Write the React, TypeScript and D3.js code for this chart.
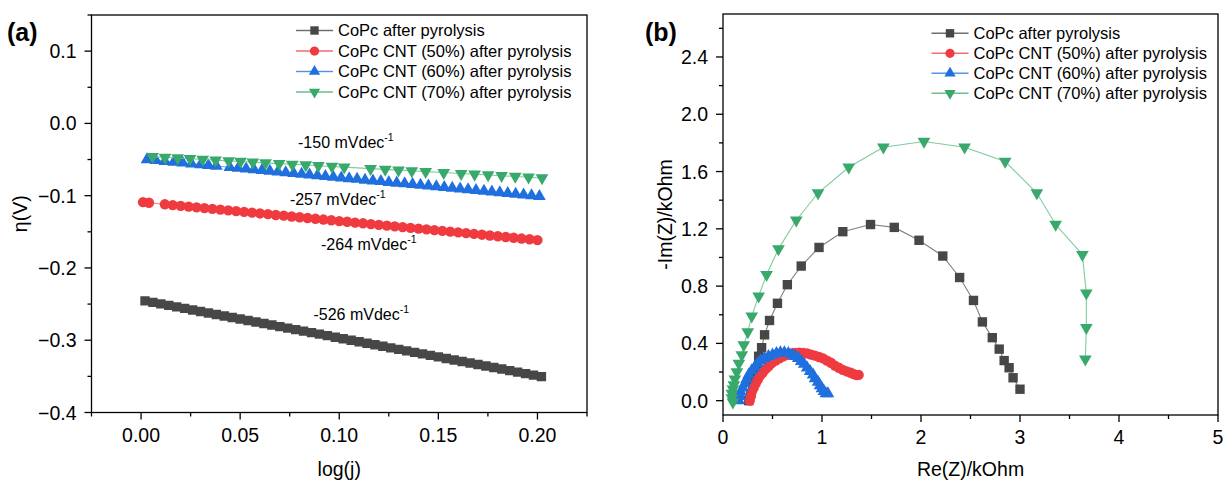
import React from 'react'
import * as d3 from 'd3'

const FONT = "Arial, 'Liberation Sans', Helvetica, sans-serif"

// ---- shared series info ----
const seriesNames = [
  'CoPc after pyrolysis',
  'CoPc CNT (50%) after pyrolysis',
  'CoPc CNT (60%) after pyrolysis',
  'CoPc CNT (70%) after pyrolysis',
]
const markerColors = ['#474747', '#ef3b40', '#1f6fdf', '#38a96a']
const lineColors = ['#808080', '#f38387', '#6fa2ea', '#7fca9f']

// ---- (a) Tafel plot ----
const logJBlack = [0.002, 0.006, 0.010, 0.014, 0.018, 0.022, 0.026, 0.030, 0.034, 0.038, 0.042, 0.046, 0.050, 0.054, 0.058, 0.062, 0.066, 0.070, 0.074, 0.078, 0.082, 0.086, 0.090, 0.094, 0.098, 0.102, 0.106, 0.110, 0.114, 0.118, 0.122, 0.126, 0.130, 0.134, 0.138, 0.142, 0.146, 0.150, 0.154, 0.158, 0.162, 0.166, 0.170, 0.174, 0.178, 0.182, 0.186, 0.190, 0.194, 0.198, 0.202]
const etaBlack = [-0.2455, -0.2476, -0.2497, -0.2518, -0.2539, -0.2560, -0.2581, -0.2602, -0.2623, -0.2644, -0.2665, -0.2686, -0.2707, -0.2727, -0.2748, -0.2769, -0.2790, -0.2811, -0.2832, -0.2853, -0.2874, -0.2895, -0.2916, -0.2937, -0.2958, -0.2979, -0.3000, -0.3021, -0.3042, -0.3063, -0.3084, -0.3105, -0.3126, -0.3147, -0.3168, -0.3189, -0.3210, -0.3231, -0.3252, -0.3273, -0.3294, -0.3315, -0.3336, -0.3357, -0.3378, -0.3399, -0.3420, -0.3441, -0.3462, -0.3483, -0.3504]

const logJRed = [0.001, 0.004, 0.012, 0.016, 0.020, 0.024, 0.028, 0.032, 0.036, 0.040, 0.044, 0.048, 0.052, 0.056, 0.060, 0.064, 0.068, 0.072, 0.076, 0.080, 0.084, 0.088, 0.092, 0.096, 0.100, 0.104, 0.108, 0.112, 0.116, 0.120, 0.124, 0.128, 0.132, 0.136, 0.140, 0.144, 0.148, 0.152, 0.156, 0.160, 0.164, 0.168, 0.172, 0.176, 0.180, 0.184, 0.188, 0.192, 0.196, 0.200]
const etaRed = [-0.1090, -0.1098, -0.1119, -0.1130, -0.1140, -0.1151, -0.1161, -0.1172, -0.1182, -0.1193, -0.1203, -0.1214, -0.1225, -0.1235, -0.1246, -0.1256, -0.1267, -0.1277, -0.1288, -0.1298, -0.1309, -0.1319, -0.1330, -0.1340, -0.1351, -0.1361, -0.1372, -0.1382, -0.1393, -0.1403, -0.1414, -0.1424, -0.1435, -0.1445, -0.1456, -0.1466, -0.1477, -0.1487, -0.1498, -0.1508, -0.1519, -0.1529, -0.1540, -0.1551, -0.1561, -0.1572, -0.1582, -0.1593, -0.1603, -0.1614]

const logJBlue = [0.003, 0.0075, 0.012, 0.0165, 0.021, 0.0255, 0.030, 0.034, 0.038, 0.0448, 0.049, 0.053, 0.057, 0.061, 0.065, 0.069, 0.073, 0.077, 0.081, 0.085, 0.089, 0.093, 0.097, 0.101, 0.105, 0.109, 0.113, 0.117, 0.121, 0.125, 0.129, 0.133, 0.137, 0.141, 0.145, 0.149, 0.153, 0.157, 0.161, 0.165, 0.169, 0.173, 0.177, 0.181, 0.185, 0.189, 0.193, 0.197, 0.201]
const etaBlue = [-0.0500, -0.0512, -0.0523, -0.0535, -0.0546, -0.0558, -0.0569, -0.0580, -0.0590, -0.0607, -0.0618, -0.0628, -0.0639, -0.0649, -0.0659, -0.0670, -0.0680, -0.0690, -0.0700, -0.0711, -0.0721, -0.0731, -0.0742, -0.0752, -0.0762, -0.0772, -0.0783, -0.0793, -0.0803, -0.0814, -0.0824, -0.0834, -0.0844, -0.0855, -0.0865, -0.0875, -0.0886, -0.0896, -0.0906, -0.0916, -0.0927, -0.0937, -0.0947, -0.0957, -0.0968, -0.0978, -0.0988, -0.0999, -0.1009]

const logJGreen = [0.0058, 0.0121, 0.0185, 0.0247, 0.0311, 0.0376, 0.0442, 0.0502, 0.0564, 0.0628, 0.0697, 0.0763, 0.0831, 0.0895, 0.0963, 0.1025, 0.1158, 0.1232, 0.1299, 0.1366, 0.1436, 0.1527, 0.1615, 0.1683, 0.1751, 0.1819, 0.1888, 0.1955, 0.2023]
const etaGreen = [-0.0460, -0.0469, -0.0479, -0.0488, -0.0498, -0.0508, -0.0518, -0.0527, -0.0536, -0.0546, -0.0556, -0.0566, -0.0576, -0.0586, -0.0596, -0.0605, -0.0625, -0.0636, -0.0646, -0.0656, -0.0667, -0.0680, -0.0694, -0.0704, -0.0714, -0.0724, -0.0734, -0.0745, -0.0755]

const tafelSlopeLabels = ['-526 mVdec', '-264 mVdec', '-257 mVdec', '-150 mVdec']
const tafelSlopeAtX = [0.087, 0.0908, 0.0751, 0.0792]
const tafelSlopeAtY = [-0.272, -0.1752, -0.1129, -0.034]

const tafelXTicks = [0, 0.05, 0.1, 0.15, 0.2]
const tafelXMinor = [-0.025, 0.025, 0.075, 0.125, 0.175, 0.225]
const tafelYTicks = [-0.4, -0.3, -0.2, -0.1, 0.0, 0.1]
const tafelYMinor = [-0.35, -0.25, -0.15, -0.05, 0.05, 0.15]

// ---- (b) Nyquist plot ----
const reBlack = [0.26, 0.28, 0.30, 0.32, 0.34, 0.36, 0.39, 0.42, 0.47, 0.55, 0.65, 0.79, 0.97, 1.21, 1.49, 1.73, 1.98, 2.22, 2.39, 2.53, 2.62, 2.72, 2.79, 2.84, 2.89, 2.93, 3.00]
const imBlack = [0.00, 0.05, 0.10, 0.16, 0.22, 0.31, 0.37, 0.46, 0.56, 0.68, 0.81, 0.94, 1.07, 1.18, 1.23, 1.21, 1.12, 1.01, 0.86, 0.70, 0.55, 0.44, 0.36, 0.28, 0.23, 0.16, 0.08]

const reRed = [0.27, 0.28, 0.29, 0.31, 0.33, 0.35, 0.37, 0.40, 0.43, 0.46, 0.49, 0.53, 0.57, 0.61, 0.65, 0.69, 0.73, 0.77, 0.81, 0.85, 0.89, 0.93, 0.97, 1.01, 1.05, 1.09, 1.13, 1.17, 1.21, 1.25, 1.29, 1.32, 1.35, 1.37]
const imRed = [0.00, 0.03, 0.06, 0.09, 0.12, 0.145, 0.17, 0.195, 0.22, 0.24, 0.26, 0.28, 0.295, 0.31, 0.32, 0.33, 0.333, 0.335, 0.333, 0.33, 0.322, 0.315, 0.305, 0.295, 0.28, 0.265, 0.245, 0.23, 0.215, 0.205, 0.195, 0.185, 0.178, 0.18]

const reBlue = [0.16, 0.17, 0.18, 0.20, 0.22, 0.24, 0.26, 0.29, 0.32, 0.35, 0.38, 0.42, 0.46, 0.50, 0.54, 0.58, 0.62, 0.66, 0.70, 0.73, 0.76, 0.79, 0.82, 0.85, 0.88, 0.91, 0.93, 0.96, 0.98, 1.00, 1.02, 1.04, 1.06]
const imBlue = [0.00, 0.03, 0.06, 0.09, 0.12, 0.15, 0.18, 0.21, 0.235, 0.26, 0.28, 0.295, 0.31, 0.32, 0.33, 0.335, 0.335, 0.33, 0.32, 0.31, 0.295, 0.275, 0.255, 0.23, 0.205, 0.18, 0.155, 0.13, 0.105, 0.085, 0.065, 0.05, 0.05]

const reGreen = [0.10, 0.09, 0.09, 0.10, 0.11, 0.12, 0.14, 0.16, 0.19, 0.21, 0.25, 0.29, 0.36, 0.44, 0.56, 0.74, 0.96, 1.27, 1.62, 2.03, 2.44, 2.85, 3.17, 3.36, 3.63, 3.67, 3.67, 3.66]
const imGreen = [-0.01, 0.02, 0.05, 0.08, 0.11, 0.15, 0.20, 0.26, 0.32, 0.39, 0.48, 0.59, 0.73, 0.88, 1.06, 1.26, 1.45, 1.63, 1.77, 1.81, 1.77, 1.67, 1.45, 1.23, 1.02, 0.75, 0.51, 0.29]

const eisXTicks = [0, 1, 2, 3, 4, 5]
const eisXMinor = [0.5, 1.5, 2.5, 3.5, 4.5]
const eisYTicks = [0.0, 0.4, 0.8, 1.2, 1.6, 2.0, 2.4]
const eisYMinor = [0.2, 0.6, 1.0, 1.4, 1.8, 2.2, 2.6]

const zip = (xs: number[], ys: number[]) => xs.map((x, i) => [x, ys[i]] as [number, number])

const tafelSeries = [zip(logJBlack, etaBlack), zip(logJRed, etaRed), zip(logJBlue, etaBlue), zip(logJGreen, etaGreen)]
const eisSeries = [zip(reBlack, imBlack), zip(reRed, imRed), zip(reBlue, imBlue), zip(reGreen, imGreen)]

const symbolTypes = [d3.symbolSquare, d3.symbolCircle, d3.symbolTriangle, d3.symbolTriangle]
const symbolSizes = [88, 84, 70, 70]

function Marker({ i, x, y, scale = 1 }: { i: number; x: number; y: number; scale?: number }) {
  const d = d3.symbol().type(symbolTypes[i]).size(symbolSizes[i] * scale)() || ''
  const rot = i === 3 ? ' rotate(180)' : ''
  return <path d={d} transform={`translate(${x},${y})${rot}`} fill={markerColors[i]} />
}

type PanelProps = {
  box: { x0: number; x1: number; y0: number; y1: number }
  xDomain: [number, number]
  yDomain: [number, number]
  xTicks: number[]
  xMinor: number[]
  yTicks: number[]
  yMinor: number[]
  xFmt: (v: number) => string
  yFmt: (v: number) => string
  series: [number, number][][]
  xTitle: string
  yTitle: string
  yTitleX: number
  tag: string
  tagX: number
  legend: { lineX0: number; y0: number; dy: number }
  children?: (x: d3.ScaleLinear<number, number>, y: d3.ScaleLinear<number, number>) => React.ReactNode
}

function Panel(p: PanelProps) {
  const { box } = p
  const x = d3.scaleLinear().domain(p.xDomain).range([box.x0, box.x1])
  const y = d3.scaleLinear().domain(p.yDomain).range([box.y1, box.y0])
  const line = d3.line<[number, number]>().x(d => x(d[0])).y(d => y(d[1]))
  const clipId = 'clip-' + p.tag.replace(/\W/g, '')
  return (
    <g fontFamily={FONT}>
      <defs>
        <clipPath id={clipId}>
          <rect x={box.x0} y={box.y0} width={box.x1 - box.x0} height={box.y1 - box.y0} />
        </clipPath>
      </defs>
      {/* data */}
      <g clipPath={`url(#${clipId})`}>
        {p.series.map((s, i) => (
          <g key={i}>
            <path d={line(s) || ''} fill="none" stroke={lineColors[i]} strokeWidth={1.1} />
            {s.map((pt, j) => (
              <Marker key={j} i={i} x={x(pt[0])} y={y(pt[1])} />
            ))}
          </g>
        ))}
      </g>
      {/* frame */}
      <rect x={box.x0} y={box.y0} width={box.x1 - box.x0} height={box.y1 - box.y0} fill="none" stroke="#000" strokeWidth={1.3} />
      {/* x axis */}
      {p.xTicks.map(t => (
        <g key={'xt' + t}>
          <line x1={x(t)} x2={x(t)} y1={box.y1} y2={box.y1 + 7} stroke="#000" strokeWidth={1.3} />
          <text x={x(t)} y={box.y1 + 29} textAnchor="middle" fontSize={19.5} fill="#000">{p.xFmt(t)}</text>
        </g>
      ))}
      {p.xMinor.map(t => (
        <line key={'xm' + t} x1={x(t)} x2={x(t)} y1={box.y1} y2={box.y1 + 4} stroke="#000" strokeWidth={1.3} />
      ))}
      {/* y axis */}
      {p.yTicks.map(t => (
        <g key={'yt' + t}>
          <line x1={box.x0 - 7} x2={box.x0} y1={y(t)} y2={y(t)} stroke="#000" strokeWidth={1.3} />
          <text x={box.x0 - 15} y={y(t)} dy="0.36em" textAnchor="end" fontSize={19.5} fill="#000">{p.yFmt(t)}</text>
        </g>
      ))}
      {p.yMinor.map(t => (
        <line key={'ym' + t} x1={box.x0 - 4} x2={box.x0} y1={y(t)} y2={y(t)} stroke="#000" strokeWidth={1.3} />
      ))}
      {/* titles */}
      <text x={(box.x0 + box.x1) / 2} y={476} textAnchor="middle" fontSize={19.5} fill="#000">{p.xTitle}</text>
      <text transform={`translate(${p.yTitleX},${(box.y0 + box.y1) / 2}) rotate(-90)`} textAnchor="middle" fontSize={19.5} fill="#000">{p.yTitle}</text>
      <text x={p.tagX} y={41} fontSize={25} fontWeight="bold" fill="#000">{p.tag}</text>
      {/* legend */}
      {seriesNames.map((name, i) => {
        const cy = p.legend.y0 + i * p.legend.dy
        const lx = p.legend.lineX0
        return (
          <g key={'lg' + i}>
            <line x1={lx} x2={lx + 37} y1={cy} y2={cy} stroke={lineColors[i]} strokeWidth={1.6} />
            <line x1={lx} x2={lx + 37} y1={cy} y2={cy} stroke={markerColors[i]} strokeOpacity={0.35} strokeWidth={1} />
            <Marker i={i} x={lx + 18.5} y={cy} scale={0.8} />
            <text x={lx + 42} y={cy} dy="0.36em" fontSize={16.5} fill="#000">{name}</text>
          </g>
        )
      })}
      {p.children && p.children(x, y)}
    </g>
  )
}

export default function App() {
  const f2 = d3.format('.2f')
  const f1 = d3.format('.1f')
  const fi = d3.format('d')
  return (
    <div style={{ position: 'absolute', left: 0, top: 0 }}>
      <svg width={1227} height={481} style={{ display: 'block', background: '#fff' }}>
        <Panel
          box={{ x0: 91.5, x1: 587, y0: 15, y1: 412.5 }}
          xDomain={[-0.025, 0.225]}
          yDomain={[-0.4, 0.15]}
          xTicks={tafelXTicks}
          xMinor={tafelXMinor}
          yTicks={tafelYTicks}
          yMinor={tafelYMinor}
          xFmt={f2}
          yFmt={f1}
          series={tafelSeries}
          xTitle="log(j)"
          yTitle="η(V)"
          yTitleX={27}
          tag="(a)"
          tagX={7}
          legend={{ lineX0: 296, y0: 30.5, dy: 20.5 }}
        >
          {(x, y) =>
            tafelSlopeLabels.map((lab, i) => (
              <text key={'sl' + i} x={x(tafelSlopeAtX[i])} y={y(tafelSlopeAtY[i])} fontSize={16} fill="#000">
                {lab}
                <tspan dy={-7} fontSize={10.5}>-1</tspan>
              </text>
            ))
          }
        </Panel>
        <Panel
          box={{ x0: 723, x1: 1218, y0: 14, y1: 415 }}
          xDomain={[0, 5]}
          yDomain={[-0.1, 2.7]}
          xTicks={eisXTicks}
          xMinor={eisXMinor}
          yTicks={eisYTicks}
          yMinor={eisYMinor}
          xFmt={fi}
          yFmt={f1}
          series={eisSeries}
          xTitle="Re(Z)/kOhm"
          yTitle="-Im(Z)/kOhm"
          yTitleX={672}
          tag="(b)"
          tagX={645}
          legend={{ lineX0: 931.5, y0: 33.3, dy: 20 }}
        />
      </svg>
    </div>
  )
}
